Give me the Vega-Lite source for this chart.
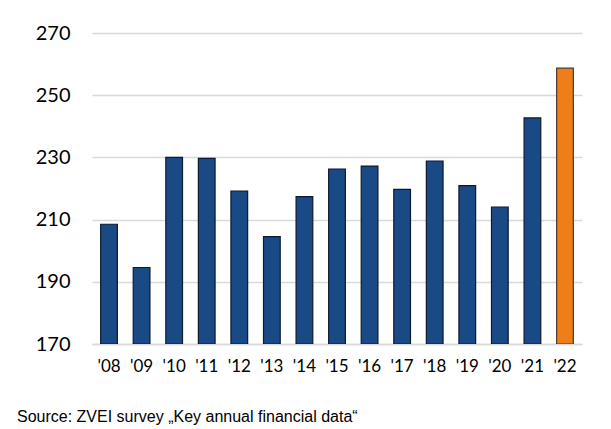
{
  "$schema": "https://vega.github.io/schema/vega-lite/v6.json",
  "autosize": "none",
  "width": 490,
  "height": 311,
  "padding": {"left": 92, "top": 33, "right": 29, "bottom": 85},
  "background": "white",
  "config": {"view": {"stroke": null}},
  "title": {
    "text": "Source: ZVEI survey „Key annual financial data“",
    "orient": "bottom",
    "anchor": "start",
    "frame": "group",
    "dx": -75,
    "offset": 35,
    "font": "Liberation Sans",
    "fontSize": 16,
    "fontWeight": "normal",
    "color": "#000000"
  },
  "data": {
    "values": [
      {"year": "'08", "value": 208.5, "type": "actual"},
      {"year": "'09", "value": 194.6, "type": "actual"},
      {"year": "'10", "value": 230.0, "type": "actual"},
      {"year": "'11", "value": 229.7, "type": "actual"},
      {"year": "'12", "value": 219.2, "type": "actual"},
      {"year": "'13", "value": 204.5, "type": "actual"},
      {"year": "'14", "value": 217.4, "type": "actual"},
      {"year": "'15", "value": 226.2, "type": "actual"},
      {"year": "'16", "value": 227.2, "type": "actual"},
      {"year": "'17", "value": 219.7, "type": "actual"},
      {"year": "'18", "value": 228.8, "type": "actual"},
      {"year": "'19", "value": 220.9, "type": "actual"},
      {"year": "'20", "value": 214.0, "type": "actual"},
      {"year": "'21", "value": 242.7, "type": "actual"},
      {"year": "'22", "value": 258.7, "type": "forecast"}
    ]
  },
  "mark": {"type": "bar", "strokeWidth": 1.2, "clip": true},
  "encoding": {
    "x": {
      "field": "year",
      "type": "ordinal",
      "sort": null,
      "scale": {"paddingInner": 0.487, "paddingOuter": 0.266},
      "axis": {
        "title": null,
        "labelAngle": 0,
        "labelFont": "Lato",
        "labelFontSize": 17,
        "labelColor": "#000000",
        "labelPadding": 14,
        "ticks": false,
        "domain": true,
        "domainColor": "#d9d9d9",
        "domainWidth": 1.5
      }
    },
    "y": {
      "field": "value",
      "type": "quantitative",
      "scale": {"domain": [170, 270], "zero": false, "nice": false},
      "axis": {
        "title": null,
        "values": [170, 190, 210, 230, 250, 270],
        "labelFont": "Lato",
        "labelFontSize": 20,
        "labelColor": "#000000",
        "labelPadding": 22,
        "ticks": false,
        "domain": false,
        "grid": true,
        "gridColor": "#d9d9d9",
        "gridWidth": 1.5
      }
    },
    "y2": {"datum": 170},
    "color": {
      "field": "type",
      "type": "nominal",
      "scale": {"domain": ["actual", "forecast"], "range": ["#1a4a86", "#ee7d1a"]},
      "legend": null
    },
    "stroke": {
      "field": "type",
      "type": "nominal",
      "scale": {"domain": ["actual", "forecast"], "range": ["#0d1a2e", "#4a3a2e"]},
      "legend": null
    }
  }
}
